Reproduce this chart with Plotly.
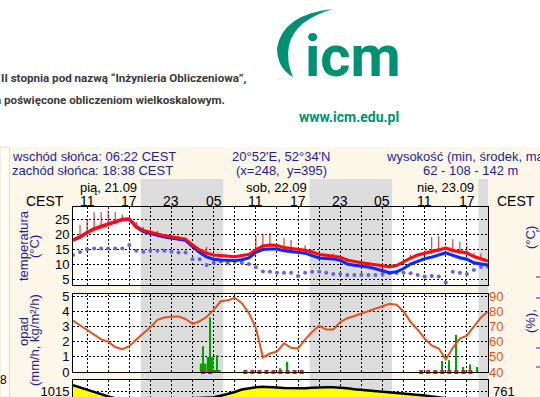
import plotly.graph_objects as go
from datetime import datetime, timedelta

# ---------------- data ----------------
START = datetime(2018, 9, 21, 9, 0)
N_HOURS = 60
END_HOUR = 59

temp_air = [18.0, 19.0, 20.5, 21.7, 22.5, 23.2, 24.0, 24.8, 25.0, 22.5,
            21.2, 20.5, 20.0, 19.4, 19.0, 18.5, 18.3, 16.3, 14.7, 13.6,
            13.0, 12.8, 12.5, 12.4, 12.8, 13.2, 14.7, 16.0, 16.3, 16.2,
            15.5, 15.2, 15.0, 14.6, 14.0, 13.2, 12.9, 12.7, 12.3, 11.3,
            10.8, 10.4, 10.1, 9.8, 9.4, 9.1, 9.5, 10.8, 12.0, 13.0,
            13.6, 14.0, 14.6, 15.3, 14.5, 14.0, 13.7, 12.5, 11.8, 11.0]
temp_blue = [18.0, 19.0, 20.5, 21.7, 22.5, 23.2, 24.0, 24.8, 25.0, 22.2,
             20.8, 20.1, 19.6, 19.0, 18.6, 18.1, 17.9, 15.8, 13.8, 12.4,
             11.6, 11.3, 11.2, 11.2, 11.4, 12.0, 13.9, 14.8, 15.0, 15.0,
             14.4, 14.2, 14.0, 13.6, 12.8, 12.0, 11.8, 11.7, 11.2, 10.0,
             9.6, 9.3, 9.0, 8.4, 7.8, 7.1, 7.4, 8.5, 10.0, 11.0,
             11.8, 12.3, 13.0, 13.7, 12.9, 12.1, 11.6, 10.4, 10.0, 9.7]
dew_point = [13.0, 14.0, 14.9, 15.2, 15.2, 15.2, 15.2, 15.2, 16.3, 14.4,
             14.1, 14.4, 14.4, 14.4, 14.1, 13.8, 13.8, 11.6, 11.6, 9.7,
             10.4, 10.8, 10.4, 10.8, 10.4, 10.0, 8.9, 7.5, 7.4, 7.1,
             7.1, 7.1, 6.0, 7.1, 7.4, 7.4, 7.1, 6.7, 6.7, 6.3,
             6.3, 6.3, 6.3, 6.3, 6.7, 6.9, 7.0, 7.1, 6.9, 6.3,
             5.8, 6.0, 5.8, 3.8, 7.4, 7.1, 6.7, 8.0, 9.0, 9.0]
spread_red = [0.5, 1.0, 1.2, 1.3, 1.3, 1.2, 1.1, 0.9, 0.7, 0.6,
              0.5, 0.5, 0.5, 0.5, 0.5, 0.5, 0.5, 0.5, 0.5, 0.5,
              0.4, 0.4, 0.4, 0.4, 0.4, 0.5, 0.6, 0.6, 0.6, 0.6,
              0.6, 0.6, 0.5, 0.5, 0.5, 0.5, 0.5, 0.5, 0.5, 0.5,
              0.4, 0.4, 0.4, 0.4, 0.4, 0.4, 0.4, 0.5, 0.6, 0.7,
              0.8, 0.8, 0.8, 0.8, 0.8, 0.7, 0.7, 0.7, 0.7, 0.7]
spread_blue = [0.4, 0.4, 0.4, 0.4, 0.4, 0.4, 0.4, 0.4, 0.4, 0.4,
               0.4, 0.4, 0.4, 0.4, 0.4, 0.4, 0.4, 0.5, 0.5, 0.5,
               0.5, 0.5, 0.5, 0.5, 0.5, 0.5, 0.5, 0.5, 0.5, 0.5,
               0.5, 0.5, 0.5, 0.5, 0.5, 0.5, 0.5, 0.5, 0.5, 0.5,
               0.5, 0.5, 0.5, 0.5, 0.5, 0.5, 0.5, 0.5, 0.6, 0.6,
               0.6, 0.6, 0.6, 0.6, 0.7, 0.7, 0.7, 0.7, 0.7, 0.7]
# hourly upper extremes of the temperature (red whiskers)
tmax_hours = [1, 2, 3, 4, 5, 6, 7, 9, 10, 11, 12, 13, 14, 15, 19, 26, 27, 28,
              30, 31, 33, 34, 35, 37, 38, 39, 41, 42, 44, 45, 47, 48, 50, 51,
              52, 54, 55, 56, 57, 58]
tmax_vals = [23.0, 25.0, 27.3, 27.3, 27.8, 27.3, 26.5, 24.0, 22.3, 21.7, 21.0,
             20.0, 19.7, 19.3, 15.7, 19.3, 20.0, 20.3, 18.7, 18.0, 16.3, 14.7,
             13.8, 13.5, 13.0, 12.0, 11.0, 10.6, 10.2, 9.8, 11.2, 13.0, 14.5,
             19.0, 19.3, 18.3, 17.4, 16.0, 13.8, 13.5]

rel_hum = [74, 71, 67.8, 64.5, 61.5, 60, 56.5, 55, 57, 61.5,
           65.6, 69.5, 74.5, 76, 76.5, 76.7, 75, 71.8, 73.5, 76.5,
           81, 86.7, 87.3, 89, 85.5, 79, 69, 49.6, 52.2, 53.5,
           59, 56, 55.5, 61.5, 66.5, 70.5, 68, 68, 73, 75.5,
           77, 78.5, 80, 82, 83.5, 85, 84.4, 80, 73, 68,
           62, 57.5, 55.5, 48.3, 56, 62, 64, 70, 76, 80]
precip_hours = [18.5, 19.5, 20.5]
precip_mean = [0.55, 1.0, 0.1]
precip_max_hours = [18.5, 19.5, 20.5, 29.5, 30.5, 52.5, 53.5, 54.5, 55.5, 56.5, 57.5]
precip_max = [1.7, 3.6, 1.1, 0.25, 0.67, 0.73, 0.78, 2.45, 0.33, 0.5, 0.33]
precip_flag_hours = [18.5, 19.5, 24.5, 25.5, 26.5, 27.5, 28.5, 29.5, 30.5,
                     31.5, 32.5, 49.5, 50.5, 51.5, 52.5, 53.5, 54.5, 55.5, 56.5]

pressure = [1017.0, 1016.2, 1015.4, 1014.6, 1013.9, 1013.2, 1012.6, 1012.1, 1011.8, 1011.6,
            1011.5, 1011.5, 1011.6, 1011.8, 1012.0, 1012.2, 1012.4, 1012.6, 1012.7, 1012.8,
            1012.9, 1013.4, 1014.0, 1014.7, 1015.5, 1016.0, 1016.3, 1016.4, 1016.4, 1016.2,
            1016.0, 1015.9, 1015.8, 1015.9, 1016.1, 1016.3, 1016.3, 1016.3, 1016.2, 1015.9,
            1015.6, 1015.4, 1015.1, 1014.9, 1014.8, 1014.6, 1014.4, 1014.2, 1014.0, 1013.9,
            1013.5, 1013.2, 1012.9, 1012.6, 1012.3, 1012.0, 1011.7, 1011.4, 1011.1, 1010.8]

grid_hours = [2, 5, 8, 11, 14, 17, 20, 23, 26, 29, 32, 35, 38, 41, 44, 47, 50, 53, 56]
label_hours = [2, 8, 14, 20, 26, 32, 38, 44, 50, 56]
hour_labels = ["11", "17", "23", "05", "11", "17", "23", "05", "11", "17"]
day_label_hours = [5, 29, 53]
day_labels = ["pią, 21.09", "sob, 22.09", "nie, 23.09"]
nights = [("2018-09-21 18:38", "2018-09-22 06:22"),
          ("2018-09-22 18:38", "2018-09-23 06:22"),
          ("2018-09-23 18:38", None)]
temp_ticks = [5, 10, 15, 20, 25]
precip_ticks = [0, 1, 2, 3, 4, 5]
rh_ticks = [40, 50, 60, 70, 80, 90]
press_ticks = [1015]
HPA_TO_MMHG = 0.750062

# ---------------- helpers ----------------
W, H = 540, 397
PX0, PX1 = 73, 488


def t(h):
    return (START + timedelta(hours=h)).strftime("%Y-%m-%d %H:%M:%S")


def px(x):
    return x / W


def py(y):
    return 1 - y / H


times = [t(h) for h in range(N_HOURS)]
x_range = [t(0), t(END_HOUR)]

NAVY = "#1f1f9a"
ORANGE = "#e4521c"
FONT = "Liberation Sans, Arial, sans-serif"

fig = go.Figure()

# ---- temperature panel ----
fig.add_trace(go.Scatter(x=times, y=[a - s for a, s in zip(temp_blue, spread_blue)],
                         mode="lines", line=dict(width=0), hoverinfo="skip",
                         showlegend=False, xaxis="x", yaxis="y"))
fig.add_trace(go.Scatter(x=times, y=[a + s for a, s in zip(temp_blue, spread_blue)],
                         mode="lines", line=dict(width=0), fill="tonexty",
                         fillcolor="rgba(140,170,255,0.45)", hoverinfo="skip",
                         showlegend=False, xaxis="x", yaxis="y"))
fig.add_trace(go.Scatter(x=times, y=[a - s for a, s in zip(temp_air, spread_red)],
                         mode="lines", line=dict(width=0), hoverinfo="skip",
                         showlegend=False, xaxis="x", yaxis="y"))
fig.add_trace(go.Scatter(x=times, y=[a + s for a, s in zip(temp_air, spread_red)],
                         mode="lines", line=dict(width=0), fill="tonexty",
                         fillcolor="rgba(255,160,175,0.40)", hoverinfo="skip",
                         showlegend=False, xaxis="x", yaxis="y"))
# whiskers
wx, wy = [], []
for h, v in zip(tmax_hours, tmax_vals):
    wx += [t(h), t(h), None]
    wy += [temp_air[h] - 0.6, v, None]
fig.add_trace(go.Scatter(x=wx, y=wy, mode="lines", line=dict(color="#c81e1e", width=1),
                         showlegend=False, xaxis="x", yaxis="y"))
fig.add_trace(go.Scatter(x=times, y=dew_point, mode="markers",
                         marker=dict(color="#6464e0", size=4), showlegend=False,
                         xaxis="x", yaxis="y"))
fig.add_trace(go.Scatter(x=times, y=temp_blue, mode="lines",
                         line=dict(color="#0a28ff", width=3), showlegend=False,
                         xaxis="x", yaxis="y"))
fig.add_trace(go.Scatter(x=times, y=temp_air, mode="lines",
                         line=dict(color="#ff0a0a", width=3), showlegend=False,
                         xaxis="x", yaxis="y"))

# ---- precipitation panel ----
fig.add_trace(go.Bar(x=[t(h) for h in precip_hours], y=precip_mean,
                     width=3600 * 1000 * 0.95, marker=dict(color="#00a400", line=dict(width=0)),
                     showlegend=False, xaxis="x2", yaxis="y3"))
fig.add_trace(go.Bar(x=[t(h) for h in precip_max_hours], y=precip_max,
                     width=3600 * 1000 * 0.2, marker=dict(color="#00a400", line=dict(width=0)),
                     showlegend=False, xaxis="x2", yaxis="y3"))
fig.add_trace(go.Scatter(x=[t(h) for h in precip_flag_hours], y=[0] * len(precip_flag_hours),
                         mode="markers", marker=dict(symbol="square", size=4, color="#d42020"),
                         cliponaxis=False, showlegend=False, xaxis="x2", yaxis="y3"))
fig.add_trace(go.Scatter(x=times, y=rel_hum, mode="lines",
                         line=dict(color=ORANGE, width=2), showlegend=False,
                         xaxis="x2", yaxis="y4"))

# ---- pressure panel ----
fig.add_trace(go.Scatter(x=times, y=pressure, mode="lines", fill="tozeroy",
                         fillcolor="#ffff00", line=dict(color="black", width=2.5),
                         showlegend=False, xaxis="x3", yaxis="y5"))

# ---------------- axes ----------------
grid_vals = [t(h) for h in grid_hours]
xcommon = dict(type="date", range=x_range, domain=[px(PX0), px(PX1)],
               tickvals=grid_vals, showgrid=True, showticklabels=False,
               gridcolor="black", griddash="2px,2px", gridwidth=1, ticks="",
               zeroline=False, linecolor="black", linewidth=1, automargin=False)
ycommon = dict(showgrid=True, gridcolor="black", griddash="2px,2px", gridwidth=1,
               ticks="", zeroline=False, linecolor="black", linewidth=1, automargin=False,
               ticklabeloverflow="allow",
               tickfont=dict(size=13, color="black", family=FONT))
yright = dict(showgrid=False, ticks="", zeroline=False, showline=False, side="right",
              automargin=False, ticklabeloverflow="allow",
              tickfont=dict(size=13, color="black", family=FONT))

T_TOP, T_BOT = 207, 285
P_TOP, P_BOT = 294, 372
B_TOP = 380
P_RANGE = [1013.0, 1018.7]

fig.update_layout(
    xaxis=dict(**xcommon, anchor="y", side="top", showline=True, mirror=True),
    xaxis2=dict(**xcommon, anchor="y3", showline=True, mirror=True),
    xaxis3=dict(**xcommon, anchor="y5", side="top", showline=True, mirror=False),
    yaxis=dict(**ycommon, domain=[py(T_BOT), py(T_TOP)], range=[3, 29],
               tickvals=temp_ticks, anchor="x", showline=True, mirror=True),
    yaxis2=dict(**yright, overlaying="y", anchor="x", range=[3, 29], tickvals=temp_ticks),
    yaxis3=dict(**ycommon, domain=[py(P_BOT), py(P_TOP)], range=[0, 5.15],
                tickvals=precip_ticks, anchor="x2", showline=True, mirror=True),
    yaxis4=dict(showgrid=False, ticks="", zeroline=False, showline=False, side="right",
                overlaying="y3", anchor="x2", range=[40, 91.5], tickvals=rh_ticks,
                automargin=False, ticklabeloverflow="allow",
                tickfont=dict(size=13, color=ORANGE, family=FONT)),
    yaxis5=dict(**ycommon, domain=[0, py(B_TOP)], range=P_RANGE,
                tickvals=press_ticks, anchor="x3", showline=True, mirror=True),
    barmode="overlay",
    width=W, height=H, margin=dict(l=0, r=0, t=0, b=0, autoexpand=False),
    paper_bgcolor="white", plot_bgcolor="rgba(0,0,0,0)",
    font=dict(family=FONT, size=13, color="black"),
    showlegend=False,
)

# ---------------- background shapes ----------------
shapes = []


def rect(x0, y0, x1, y1, color, line=None):
    shapes.append(dict(type="rect", xref="paper", yref="paper", layer="below",
                       x0=px(x0), x1=px(x1), y0=py(y1), y1=py(y0), fillcolor=color,
                       line=line or dict(width=0)))


rect(0, 147, 540, 397, "#fdf7ea")
rect(0, 147, 9.5, 397, "#fffcf5", dict(color="#e4dccb", width=1))
for (a, b) in [(T_TOP, T_BOT), (P_TOP, P_BOT), (B_TOP, 397)]:
    rect(PX0, a, PX1, b, "white")
for s, e in nights:
    shapes.append(dict(type="rect", xref="x", yref="paper", layer="below",
                       x0=s, x1=e if e else x_range[1], y0=0, y1=py(179),
                       fillcolor="#dcdcdc", line=dict(width=0)))
# tiny blue ticks at the right edge
for yy in [231, 277, 298, 348, 367]:
    shapes.append(dict(type="line", xref="paper", yref="paper", x0=px(536), x1=px(541),
                       y0=py(yy), y1=py(yy), line=dict(color="#2a2aa8", width=1)))


def P(x, y):
    return f"{px(x):.5f},{py(y):.5f}"


TEAL = "#009073"
swirl = (f"M {P(333, 9)} Q {P(283, 14)} {P(277, 48)} Q {P(277, 68)} {P(293, 77)} "
         f"Q {P(286, 62)} {P(289, 45)} Q {P(295, 20)} {P(333, 9)} Z")
shapes.append(dict(type="path", xref="paper", yref="paper", path=swirl,
                   fillcolor=TEAL, line=dict(width=0)))
fig.update_layout(shapes=shapes)

# ---------------- annotations ----------------
ann = []


def text(x, y, s, size=13, color="black", xanchor="center", angle=0, family=FONT,
         xref="paper", yref="paper"):
    ann.append(dict(x=x if xref != "paper" else px(x), y=py(y) if yref == "paper" else y,
                    xref=xref, yref=yref,
                    text=s, showarrow=False, xanchor=xanchor, yanchor="middle",
                    textangle=angle, font=dict(size=size, color=color, family=family)))


text(10, 157, "wschód słońca: 06:22 CEST", color=NAVY, xanchor="left")
text(10, 171, "zachód słońca: 18:38 CEST", color=NAVY, xanchor="left")
text(281, 157, "20°52'E, 52°34'N", color=NAVY)
text(281, 171, "(x=248,  y=395)", color=NAVY)
text(470, 157, "wysokość (min, środek, max)", color=NAVY)
text(470, 171, "62 - 108 - 142 m", color=NAVY)
for h, lab in zip(day_label_hours, day_labels):
    text(t(h), 188, lab, xref="x")
for h, lab in zip(label_hours, hour_labels):
    text(t(h), 201, lab, xref="x", size=14)
# pressure in mmHg on the right side of the pressure panel
for p in press_ticks:
    text(491, p, str(round(p * HPA_TO_MMHG)), xanchor="left", yref="y5")
text(66, 201, "CEST", xanchor="right", size=14)
text(495, 201, "CEST", xanchor="left", size=14)
text(23, 246, "temperatura", color=NAVY, angle=-90)
text(34, 247, "(°C)", color=NAVY, angle=-90)
text(23, 332, "opad", color=NAVY, angle=-90)
text(34, 340, "(mm/h, kg/m²/h)", color=NAVY, angle=-90)
text(530, 238, "(°C)", color=NAVY, angle=-90)
text(530, 321, "(%),", color=NAVY, angle=-90)
text(3, 380, "8", size=12)

HEAD = "Roboto, sans-serif"
text(-1, 78, "<b>II stopnia pod nazwą “Inżynieria Obliczeniowa”,</b>", size=11.6,
     color="#3a3a3a", xanchor="left", family=HEAD)
text(-7, 100, "<b>a poświęcone obliczeniom wielkoskalowym.</b>", size=11.6,
     color="#3a3a3a", xanchor="left", family=HEAD)
text(303, 56, "<b>icm</b>", size=58, color=TEAL, xanchor="left", family="Roboto, sans-serif")
text(349, 117, "<b>www.icm.edu.pl</b>", size=14, color=TEAL, family=HEAD)

fig.update_layout(annotations=ann)

fig.write_html("out.html", config={"displayModeBar": False},
               post_script="document.body.style.margin='0px';"
                           "document.body.style.overflow='hidden';")
